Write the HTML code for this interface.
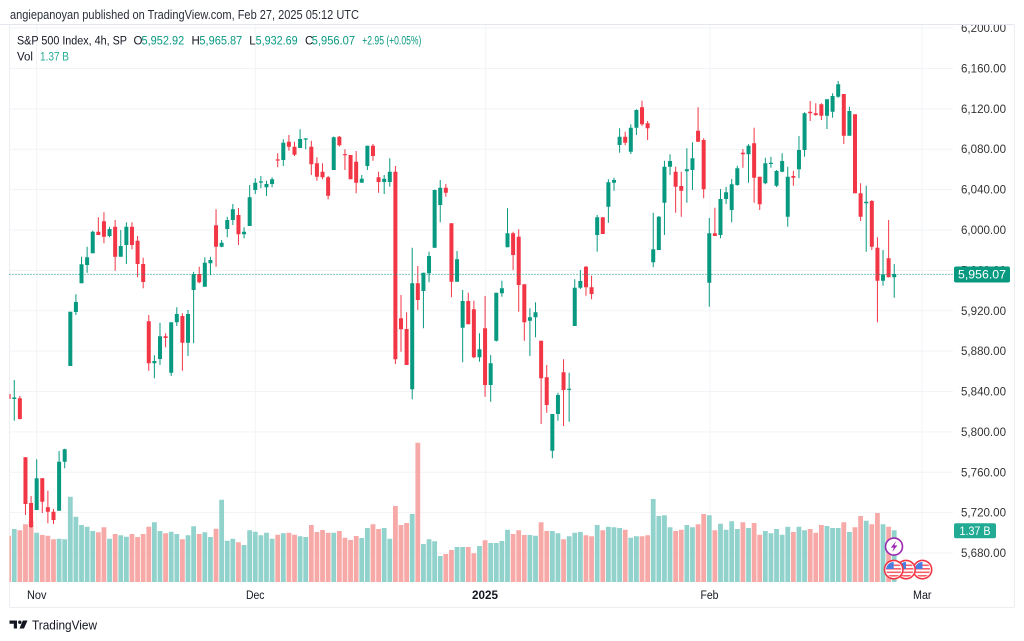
<!DOCTYPE html>
<html><head><meta charset="utf-8">
<style>
html,body{margin:0;padding:0;background:#fff;}
svg{display:block;}
text{font-family:"Liberation Sans","DejaVu Sans",sans-serif;}
</style></head><body>
<svg width="1024" height="641" viewBox="0 0 1024 641" xmlns="http://www.w3.org/2000/svg">
<defs>
<clipPath id="pane"><rect x="9.5" y="25" width="944" height="558"/></clipPath>
<clipPath id="axis"><rect x="953" y="25" width="61" height="558"/></clipPath>
<clipPath id="f1"><circle cx="922.5" cy="569.6" r="7.6"/></clipPath>
<clipPath id="f2"><circle cx="906" cy="569.6" r="7.6"/></clipPath>
<clipPath id="f3"><circle cx="893.7" cy="569.6" r="7.6"/></clipPath>
</defs>
<rect width="1024" height="641" fill="#fff"/>
<text x="10" y="19" font-size="12.5" fill="#2a2e39" textLength="349" lengthAdjust="spacingAndGlyphs">angiepanoyan published on TradingView.com, Feb 27, 2025 05:12 UTC</text>

<!-- frame -->
<line x1="0" y1="24.5" x2="1014" y2="24.5" stroke="#e3e6ec"/>
<line x1="9.5" y1="24.5" x2="9.5" y2="607.5" stroke="#eceef2"/>
<line x1="9.5" y1="607.5" x2="1014" y2="607.5" stroke="#eceef2"/>
<line x1="1014.5" y1="24.5" x2="1014.5" y2="607.5" stroke="#eceef2"/>

<!-- grid -->
<g stroke="#f2f3f6" stroke-width="1">
<line x1="9.5" x2="953" y1="28.1" y2="28.1"/>
<line x1="9.5" x2="953" y1="68.5" y2="68.5"/>
<line x1="9.5" x2="953" y1="108.9" y2="108.9"/>
<line x1="9.5" x2="953" y1="149.2" y2="149.2"/>
<line x1="9.5" x2="953" y1="189.6" y2="189.6"/>
<line x1="9.5" x2="953" y1="230" y2="230"/>
<line x1="9.5" x2="953" y1="270.4" y2="270.4"/>
<line x1="9.5" x2="953" y1="310.8" y2="310.8"/>
<line x1="9.5" x2="953" y1="351.1" y2="351.1"/>
<line x1="9.5" x2="953" y1="391.5" y2="391.5"/>
<line x1="9.5" x2="953" y1="431.9" y2="431.9"/>
<line x1="9.5" x2="953" y1="472.3" y2="472.3"/>
<line x1="9.5" x2="953" y1="512.6" y2="512.6"/>
<line x1="9.5" x2="953" y1="553" y2="553"/>
<line x1="36.7" x2="36.7" y1="25" y2="583"/>
<line x1="255.3" x2="255.3" y1="25" y2="583"/>
<line x1="485.7" x2="485.7" y1="25" y2="583"/>
<line x1="710" x2="710" y1="25" y2="583"/>
<line x1="922" x2="922" y1="25" y2="583"/>
</g>

<g clip-path="url(#pane)">
<path id="gv" fill="#92d2cc" d=""/>
<path id="rv" fill="#f7a9a7" d=""/>
<path id="gw" stroke="#089981" stroke-width="1" fill="none" d=""/>
<path id="rw" stroke="#f23645" stroke-width="1" fill="none" d=""/>
<path id="gb" fill="#089981" d=""/>
<path id="rb" fill="#f23645" d=""/>
<line x1="9.5" x2="953" y1="274.4" y2="274.4" stroke="#089981" stroke-width="1" stroke-dasharray="1 2"/>
</g>

<!-- legend -->
<g font-size="11.5">
<text x="17" y="44.5" fill="#131722" textLength="110" lengthAdjust="spacingAndGlyphs">S&amp;P 500 Index, 4h, SP</text>
<text x="133.5" y="44.5" fill="#131722">O</text>
<text x="141.5" y="44.5" fill="#089981" textLength="42.7" lengthAdjust="spacingAndGlyphs">5,952.92</text>
<text x="191.5" y="44.5" fill="#131722">H</text>
<text x="199.4" y="44.5" fill="#089981" textLength="42.9" lengthAdjust="spacingAndGlyphs">5,965.87</text>
<text x="249.3" y="44.5" fill="#131722">L</text>
<text x="255.6" y="44.5" fill="#089981" textLength="42.1" lengthAdjust="spacingAndGlyphs">5,932.69</text>
<text x="305" y="44.5" fill="#131722">C</text>
<text x="311.8" y="44.5" fill="#089981" textLength="43.2" lengthAdjust="spacingAndGlyphs">5,956.07</text>
<text x="362.3" y="44.5" fill="#089981" textLength="59" lengthAdjust="spacingAndGlyphs">+2.95 (+0.05%)</text>
<text x="17" y="60.5" fill="#131722" textLength="16" lengthAdjust="spacingAndGlyphs">Vol</text>
<text x="40" y="60.5" fill="#22ab94" textLength="29" lengthAdjust="spacingAndGlyphs">1.37 B</text>
</g>

<!-- price axis -->
<g clip-path="url(#axis)" font-size="11.5" fill="#333">
<text x="961" y="32.1" textLength="45" lengthAdjust="spacingAndGlyphs">6,200.00</text>
<text x="961" y="72.5" textLength="45" lengthAdjust="spacingAndGlyphs">6,160.00</text>
<text x="961" y="112.9" textLength="45" lengthAdjust="spacingAndGlyphs">6,120.00</text>
<text x="961" y="153.2" textLength="45" lengthAdjust="spacingAndGlyphs">6,080.00</text>
<text x="961" y="193.6" textLength="45" lengthAdjust="spacingAndGlyphs">6,040.00</text>
<text x="961" y="234" textLength="45" lengthAdjust="spacingAndGlyphs">6,000.00</text>
<text x="961" y="274.4" textLength="45" lengthAdjust="spacingAndGlyphs">5,960.00</text>
<text x="961" y="314.8" textLength="45" lengthAdjust="spacingAndGlyphs">5,920.00</text>
<text x="961" y="355.1" textLength="45" lengthAdjust="spacingAndGlyphs">5,880.00</text>
<text x="961" y="395.5" textLength="45" lengthAdjust="spacingAndGlyphs">5,840.00</text>
<text x="961" y="435.9" textLength="45" lengthAdjust="spacingAndGlyphs">5,800.00</text>
<text x="961" y="476.3" textLength="45" lengthAdjust="spacingAndGlyphs">5,760.00</text>
<text x="961" y="516.6" textLength="45" lengthAdjust="spacingAndGlyphs">5,720.00</text>
<text x="961" y="557" textLength="45" lengthAdjust="spacingAndGlyphs">5,680.00</text>
</g>
<rect x="954" y="266.5" width="56" height="16" rx="2" fill="#089981"/>
<text x="958" y="278.6" font-size="11.5" fill="#fff" textLength="48" lengthAdjust="spacingAndGlyphs">5,956.07</text>
<rect x="954" y="523.3" width="42" height="15" rx="2" fill="#22ab94"/>
<text x="959.5" y="534.8" font-size="11.5" fill="#fff" textLength="31" lengthAdjust="spacingAndGlyphs">1.37 B</text>

<!-- time axis -->
<g font-size="11.5" fill="#131722">
<text x="27" y="599" textLength="19.5" lengthAdjust="spacingAndGlyphs">Nov</text>
<text x="246" y="599" textLength="18.5" lengthAdjust="spacingAndGlyphs">Dec</text>
<text x="472" y="599" font-weight="bold" textLength="26" lengthAdjust="spacingAndGlyphs">2025</text>
<text x="700.5" y="599" textLength="18" lengthAdjust="spacingAndGlyphs">Feb</text>
<text x="913" y="599" textLength="18.5" lengthAdjust="spacingAndGlyphs">Mar</text>
</g>

<!-- event icons -->
<g>
<circle cx="922.5" cy="569.6" r="9.2" fill="#fff" stroke="#f23645" stroke-width="1.6"/>
<g clip-path="url(#f1)"><rect x="912" y="560" width="22" height="20" fill="#fff"/><rect x="912" y="564.5" width="22" height="1.6" fill="#f4606b"/><rect x="912" y="568" width="22" height="1.6" fill="#f4606b"/><rect x="912" y="571.5" width="22" height="1.6" fill="#f4606b"/><rect x="912" y="575" width="22" height="1.6" fill="#f4606b"/><rect x="914" y="561" width="8.5" height="8" fill="#4a7ee0"/></g>
<circle cx="906" cy="569.6" r="9.2" fill="#fff" stroke="#f23645" stroke-width="1.6"/>
<g clip-path="url(#f2)"><rect x="896" y="560" width="22" height="20" fill="#fff"/><rect x="896" y="564.5" width="22" height="1.6" fill="#f4606b"/><rect x="896" y="568" width="22" height="1.6" fill="#f4606b"/><rect x="896" y="571.5" width="22" height="1.6" fill="#f4606b"/><rect x="896" y="575" width="22" height="1.6" fill="#f4606b"/><rect x="897.5" y="561" width="8.5" height="8" fill="#4a7ee0"/></g>
<circle cx="893.7" cy="569.6" r="9.2" fill="#fff" stroke="#f23645" stroke-width="1.6"/>
<g clip-path="url(#f3)"><rect x="884" y="560" width="22" height="20" fill="#fff"/><rect x="884" y="564.5" width="22" height="1.6" fill="#f4606b"/><rect x="884" y="568" width="22" height="1.6" fill="#f4606b"/><rect x="884" y="571.5" width="22" height="1.6" fill="#f4606b"/><rect x="884" y="575" width="22" height="1.6" fill="#f4606b"/><rect x="885" y="561" width="8.7" height="8" fill="#4a7ee0"/></g>
<circle cx="894" cy="546.6" r="8.5" fill="#fff" stroke="#9c27b0" stroke-width="1.6"/>
<path d="M896 541.2 L890.8 547.6 H893.8 L892.2 552 L897.4 545.4 H894.4 Z" fill="#9c27b0"/>
</g>

<!-- logo -->
<path d="M9.5 620.5 H17 V628.5 H13.8 V623.8 H9.5 Z" fill="#131722"/>
<circle cx="19.8" cy="622.2" r="1.7" fill="#131722"/>
<path d="M22.8 620.5 H27.5 L24 628.5 H19.5 Z" fill="#131722"/>
<text x="32" y="629.5" font-size="12.5" fill="#131722" textLength="65" lengthAdjust="spacingAndGlyphs">TradingView</text>
</svg>
<script>
const D=[
[0,394,399,392,400,535.7],[1,397.5,399,380,420.7,529],[0,398.3,419,396,419.5,530.3],[0,457.3,504,457,515,524.3],[0,503,527,496,528,521],
[1,478.3,510,459.3,510,532.7],[0,478.3,501.7,478,513,535],[0,507.3,511.7,490.7,523.3,535.7],[0,511.7,520,509,524,539.3],[1,461.7,510.7,451,510.7,538.7],
[1,449.3,461.7,448.7,468.3,539.3],[1,311.7,366,311.7,366,496.7],[1,302,312,294.3,315,516.7],[1,264.3,283.3,256.7,283.3,525],[1,257.3,265,246.7,272.7,526.7],
[1,231.7,253.3,230.7,253.3,531],[0,231.7,235,217.3,235,532.3],[0,221.3,236.7,212.3,243.3,527.3],[1,229,236,226.7,237.3,538.7],[0,226.7,256.7,220,270.7,534],
[1,246,256.7,230,256.7,535.3],[1,226.7,245,222.3,264,536.7],[0,226.7,245,222.3,249.3,534],[0,240.7,264,236,277.3,537],[0,264,282,257.7,288.3,534],
[0,321.3,363.3,315,370.7,526.7],[1,361,363.3,355.3,378.3,522.3],[1,336.3,359,322.7,365,531],[0,336.3,338,333.3,347.3,533.3],[1,322.3,372.7,322.3,376,531.7],
[1,314,322.3,307.3,326,534],[0,316,342.7,313.3,370.7,539.3],[1,314,342.7,310,356,535.3],[1,274,290,271.7,343.3,526.3],[0,274,282.3,266.7,283.3,534],
[1,262.7,286.7,257.3,286.7,532.3],[1,260,263.3,256.7,275,537],[0,225.3,246.7,209.3,266.7,528.7],[1,242.7,246.7,240,247.3,499.7],[1,220,229,216.7,237.3,540.7],
[1,209.3,220,204,225,538.7],[0,215,234.3,208,245,542.3],[1,231.7,234.3,227.3,238.3,545],[1,197.3,226,185,226,530.3],[1,182.7,190,178.3,194,531.7],
[1,181.5,182.5,176,188.3,535.3],[1,184,187.3,180.7,196,532.7],[1,179.3,184,177.3,187.3,538.7],[0,159.5,160.5,153.3,167.3,534.7],[1,142.7,160,139.3,166,533.3],
[0,141.7,146.7,135,150.7,532.7],[0,146.7,154.7,141.7,156,534.7],[1,139,148,129.3,148,536.3],[1,138.5,139.5,138.3,149.3,537],[0,146.7,164.3,140.7,175,525],
[0,163.3,176.7,157.3,180.7,532],[0,171.7,177.3,163.3,179.3,530],[0,177.3,195.7,176,199.3,532.7],[1,137.3,170,136.5,170,532.7],[0,136.7,145.3,136,146.5,531],
[0,154.2,155.2,149.3,170,537.7],[0,155,179.3,155,179.3,540],[0,161.7,182.7,151,193.3,536],[1,178.7,182.7,175,182.7,538],[1,145.7,166,145.7,170,528],
[0,145.7,156,144,160.7,524.3],[0,177.3,182,171.7,192.7,529],[1,178.7,182,175,194,528],[1,171.7,182,158.3,186.7,538.7],[0,171.7,359.3,166,364,506],
[0,318.3,329.3,295,351.7,525],[0,329,365,312.3,365,523],[1,283.3,389.3,247.7,399.3,514],[0,283.3,300,266,310,442.7],[1,272.7,291,272.7,328.3,544],
[1,256,273.3,251.7,282.3,539.3],[1,190,247.7,189.5,248,541.3],[1,187.7,205,180,222.3,556],[0,187.7,192.7,184,196.7,554],[0,223.3,281.7,223.3,297.3,550],
[1,259.3,281.7,251,281.7,547],[1,301,327.7,290,362.3,547],[0,301,324.3,292.7,324.3,547],[0,309.3,357.3,300.7,358.3,553.3],[1,349.3,357.3,333.3,361.7,546],
[0,328.3,385,296,396.7,540.3],[1,363.3,385,355,401.7,543],[1,292.7,340.7,292.7,341.5,543],[1,288.3,293.3,280.7,296.7,541],[1,233.3,247.3,208.3,247.3,529.7],
[0,233.3,255,231.7,270,534],[0,236.7,285,229.3,311.7,530.3],[0,284.3,322.3,284.3,340.7,535],[1,317.3,320.7,308.3,356,535],[1,312.3,317.3,302.3,337.3,535.7],
[0,340.7,378.3,340.7,424,522.3],[0,377.3,405,365,412.7,531],[1,414,450.7,414,458.3,531],[1,395,414,392.7,420.7,533.3],[0,372.3,390,359.3,426,539.3],
[1,388.8,389.8,372.7,421.7,536.3],[1,287.7,326,279.3,326,532.7],[1,281,287.7,270,289,532],[0,266.7,287.3,266,295.7,535.3],[0,287.3,294,275.7,299.3,536.3],
[1,217.3,235,215,251.7,525],[0,217.3,234,217.3,234,530.3],[1,182.3,206.7,179.3,222.7,526.7],[1,180,182.7,177.7,190.7,527.3],[1,136.7,145,128.3,152.7,528],
[0,136.7,142.7,131.7,145.3,529.7],[1,127.7,151.7,124.3,154,537.7],[1,110,127.7,109.3,135,536.3],[0,107.3,124.3,100.7,126,536.3],[0,123.3,128.3,121,140,535.3],
[1,249.3,262.3,212.7,267.3,499],[1,216.7,250,216,250,516],[1,166.7,202.7,160.7,235,515.3],[1,161,166.7,154.3,175,527.3],[0,171.7,186.7,166.7,212.7,531],
[0,186,190.7,171.7,216.7,529.7],[1,169.3,171.3,148.3,202.7,525],[1,158.3,170,142.3,190,527.3],[0,130.7,141.7,107.3,141.7,524.3],[0,140,189.3,138.3,198.3,514],
[1,233.3,282.7,218,306.7,515.3],[0,233.3,236,207.7,236,530.3],[1,199,235,189,238.3,523.7],[1,192.3,199,186.7,204,529.7],[1,184.3,210,179,222.3,521.3],
[1,168.3,185,165.7,185.7,529],[0,152.7,154.3,149,167.7,522.3],[1,145.7,154.3,144.3,182.7,528],[0,143.3,177.7,127.7,202.7,523],[0,176.7,204.3,176.7,210,534.7],
[1,163.3,183.3,157.7,184.3,531],[1,162.7,164,156.7,167.7,533.3],[1,171,185.7,170,187,529],[1,161,171.7,153.3,172.3,534.7],[1,176.7,216.7,166.7,226.7,526.7],
[0,176,177.7,170.7,185.7,532],[1,150,169.3,136,178.3,526.7],[1,113.3,150,112.3,156.7,530.3],[0,111.7,113.3,101,121,529],[0,113.3,115,103.3,115.7,532.7],
[0,104.3,115.7,103.3,120,525],[1,99.3,115.7,99.3,129,526],[1,96,111.7,93.3,117.7,528],[1,84.3,96.7,81,97.7,528],[0,94,135.7,94,144,522.3],
[1,111,135.7,106.7,135.7,532],[0,114.3,193.3,114.3,193.3,527.3],[0,193.3,216.7,183.3,221,516],[1,201.7,203.3,185.7,251.7,520.7],[0,201,246.7,200,250,524.3],
[0,247.7,280.7,237.3,322.3,513],[1,274.3,280.7,250,285.7,524.3],[0,258.3,277.3,220,277.3,526.7],[1,274,277.3,264,297.7,530.3]
];
let gw='',gb='',rw='',rb='',gv='',rv='';
D.forEach(function(d,i){
  var x=8.65+5.605*i, g=d[0], t=d[1], b=d[2], wt=d[3], wb=d[4], v=d[5];
  if(b-t<1.2){var m=(t+b)/2;t=m-0.6;b=m+0.6;}
  var body='M'+(x-2).toFixed(2)+' '+t+'h4V'+b+'h-4z';
  var wick='M'+x.toFixed(2)+' '+wt+'V'+wb;
  var vol='M'+(x-2.4).toFixed(2)+' '+v+'h4.8V582h-4.8z';
  if(g){gw+=wick;gb+=body;gv+=vol;}else{rw+=wick;rb+=body;rv+=vol;}
});
document.getElementById('gw').setAttribute('d',gw);
document.getElementById('gb').setAttribute('d',gb);
document.getElementById('rw').setAttribute('d',rw);
document.getElementById('rb').setAttribute('d',rb);
document.getElementById('gv').setAttribute('d',gv);
document.getElementById('rv').setAttribute('d',rv);
</script>
</body></html>
